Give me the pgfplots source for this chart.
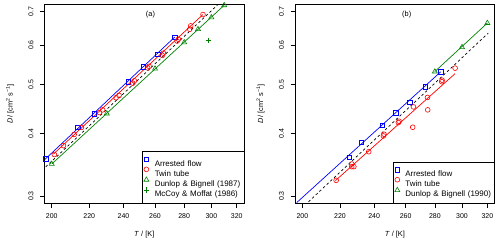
\documentclass[border=0pt]{standalone}
\usepackage{fontspec}
\setmainfont{Liberation Sans}
\usepackage{graphicx}
\usepackage{pgfplots}
\pgfplotsset{compat=1.18}
\definecolor{rblue}{RGB}{0,0,255}
\definecolor{rred}{RGB}{255,0,0}
\definecolor{rgreen}{RGB}{0,130,0}
\newcommand{\fs}{\fontsize{7.0}{8}\selectfont}
\newcommand{\fl}{\fontsize{7.4}{8.5}\selectfont}
\newcommand{\fg}{\fontsize{8.0}{9}\selectfont}
\newcommand{\Dlabel}{\rotatebox{90}{\textit{D}/ [cm\textsuperscript{2} s\textsuperscript{−1}]}}
\pgfplotsset{
  scale only axis, width=199.75bp, height=199.4bp,
  xmin=196.28, xmax=326.07, ymin=0.2900, ymax=0.72413,
  xtick={200,220,240,260,280,300,320},
  xticklabels={200,220,240,260,280,300,320},
  ytick={0.3,0.4,0.5,0.6,0.7},
  yticklabels={0.3,0.4,0.5,0.6,0.7},
  xminorticks=false, yminorticks=false,
  tick align=outside, tick pos=left,
  major tick length=4.5bp,
  every tick/.style={black, line width=0.6bp},
  axis line style={line width=0.6bp},
  ticklabel style={font=\fs},
  xticklabel style={anchor=north, inner sep=0pt},
  xticklabel shift=5.6bp,
  yticklabel style={rotate=90, anchor=south, inner sep=0pt},
  yticklabel shift=6.35bp,
  xlabel={\textit{T} / [K]},
  every axis x label/.style={at={(axis description cs:0.5,-0.1585)}, anchor=center, inner sep=0pt, font=\fl},
  legend image code/.code={\draw[#1] plot coordinates {(0bp,2.9bp)};},
  legend cell align=left,
  legend style={at={(1,0)}, anchor=south east, draw=black, line width=0.5bp, fill=white,
    inner xsep=1.3bp, inner ysep=5.4bp, row sep=0pt, font=\fg,
    nodes={inner xsep=0pt, inner ysep=0pt, text height=8.5bp, text depth=0.83bp, text width=87.8bp},
    /tikz/every odd column/.append style={column sep=5.6bp}},
}
\begin{document}
\begin{tikzpicture}
\path[use as bounding box] (0bp,0bp) rectangle (500bp,244bp);
\node[font=\fl, inner sep=0pt, anchor=center] at (10bp,140.3bp) {\Dlabel};
\node[font=\fl, inner sep=0pt, anchor=center] at (260.6bp,140.3bp) {\Dlabel};
% ---------------- panel (a)
\begin{axis}[xmode=log, ymode=log, at={(44.35bp,40.6bp)}, anchor=south west]
\addplot[only marks, line width=0.6bp, rblue, mark=square, mark size=2.3bp] coordinates {
(197.0,0.356) (213.6,0.411) (222.9,0.438) (243.0,0.506) (252.4,0.5435) (262.0,0.575) (273.3,0.622)};
\addlegendentry{Arrested flow}
\addplot[only marks, line width=0.6bp, rred, mark=o, mark size=2.4bp] coordinates {
(201.3,0.363) (206.0,0.378) (211.7,0.398) (215.6,0.411) (225.7,0.440) (227.6,0.4455)
(235.5,0.471) (237.3,0.476) (245.7,0.5035) (246.7,0.509) (255.2,0.540) (256.1,0.544)
(264.9,0.572) (265.6,0.578) (275.0,0.611) (275.9,0.616) (284.0,0.645) (284.7,0.655) (293.7,0.690)};
\addlegendentry{Twin tube}
\addplot[only marks, line width=0.6bp, rgreen, mark=triangle, mark size=2.9bp] coordinates {
(200,0.3475) (230,0.438) (260,0.538) (280,0.607) (290,0.645) (300,0.681) (310,0.720)};
\addlegendentry{Dunlop \& Bignell (1987)}
\addplot[only marks, line width=0.6bp, rgreen, mark=+, mark size=2.8bp] coordinates {(298,0.613)};
\addlegendentry{McCoy \& Moffat (1986)}
\addplot[no marks, line width=0.7bp, forget plot, rblue] coordinates {(196.6,0.355) (273.3,0.622)};
\addplot[no marks, line width=0.7bp, forget plot, rred] coordinates {(200.8,0.3636) (293.7,0.690)};
\addplot[no marks, line width=0.7bp, forget plot, rgreen] coordinates {(200,0.3475) (310,0.720)};
\addplot[no marks, line width=0.7bp, forget plot, black, dash pattern=on 2.5bp off 2.5bp] coordinates {(197,0.343) (305,0.722)};
\node[font=\fl] at (axis cs:257,0.69) {(a)};
\end{axis}
% ---------------- panel (b)
\begin{axis}[xmode=log, ymode=log, at={(295bp,40.6bp)}, anchor=south west]
\addplot[only marks, line width=0.6bp, rblue, mark=square, mark size=2.3bp] coordinates {
(225.2,0.3583) (232.3,0.3839) (244.9,0.415) (253.5,0.440) (262.7,0.4613) (273.4,0.4953) (284.2,0.5304)};
\addlegendentry{Arrested flow}
\addplot[only marks, line width=0.6bp, rred, mark=o, mark size=2.4bp] coordinates {
(217.9,0.3224) (226.7,0.3475) (226.7,0.3433) (227.9,0.3433) (236.7,0.3677) (245.7,0.3953)
(246.1,0.3983) (255.2,0.4202) (255.7,0.4228) (265.2,0.4516) (264.7,0.4113) (274.8,0.4716)
(275.0,0.4455) (285.0,0.5068) (285.2,0.5105) (294.8,0.5395)};
\addlegendentry{Twin tube}
\addplot[only marks, line width=0.6bp, rgreen, mark=triangle, mark size=2.9bp] coordinates {
(280,0.531) (300,0.594) (320,0.6635)};
\addlegendentry{Dunlop \& Bignell (1990)}
\addplot[no marks, line width=0.7bp, forget plot, rblue] coordinates {(197.1,0.291) (284.2,0.5304)};
\addplot[no marks, line width=0.7bp, forget plot, rred] coordinates {(217.5,0.322) (294.8,0.526)};
\addplot[no marks, line width=0.7bp, forget plot, rgreen] coordinates {(280,0.531) (320,0.6635)};
\addplot[no marks, line width=0.7bp, forget plot, black, dash pattern=on 2.5bp off 2.5bp] coordinates {(203.1,0.2922) (320.7,0.6335)};
\node[font=\fl] at (axis cs:260.7,0.69) {(b)};
\end{axis}
\end{tikzpicture}
\end{document}
